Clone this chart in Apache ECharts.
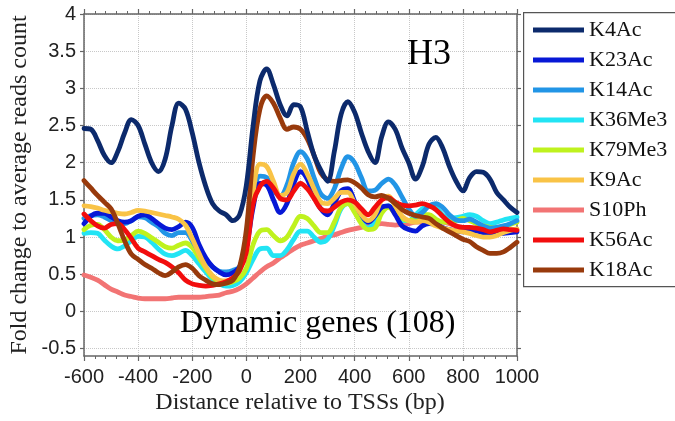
<!DOCTYPE html>
<html>
<head>
<meta charset="utf-8">
<script src="https://cdn.jsdelivr.net/npm/echarts@6/dist/echarts.min.js"></script>
<style>
  html, body { margin: 0; padding: 0; background: #ffffff; }
  #chart { width: 675px; height: 421px; }
</style>
</head>
<body>
<div id="chart"></div>
<script>
// Distance from the TSS (bp) at which each profile value was taken
const positions = [-600, -575, -550, -525, -500, -475, -450, -425, -400, -375, -350, -325, -300, -275, -250, -225, -200, -175, -150, -125, -100, -75, -50, -25,
  0, 25, 50, 75, 100, 125, 150, 175, 200, 225, 250, 275, 300, 325, 350, 375, 400, 425, 450, 475, 500, 525, 550, 575, 600, 625, 650, 675, 700, 725, 750, 775,
  800, 825, 850, 875, 900, 925, 950, 975, 1000];

// Fold change to average reads count, one array per H3 modification
const k4ac = [2.46, 2.45, 2.3, 2.1, 2.0, 2.15, 2.4, 2.58, 2.5, 2.25, 2.0, 1.88, 2.05, 2.5, 2.8, 2.72, 2.4, 2.0, 1.68, 1.45, 1.35, 1.3, 1.22, 1.3,
  1.7, 2.5, 3.1, 3.26, 3.05, 2.78, 2.63, 2.78, 2.75, 2.42, 2.1, 1.9, 1.75, 2.15, 2.65, 2.82, 2.68, 2.4, 2.15, 2.0, 2.35, 2.55, 2.45, 2.2, 2.0, 1.78, 1.95, 2.25, 2.34, 2.2, 1.95, 1.75,
  1.62, 1.8, 1.88, 1.87, 1.78, 1.6, 1.5, 1.4, 1.33];
const k23ac = [1.18, 1.28, 1.32, 1.32, 1.27, 1.22, 1.2, 1.22, 1.28, 1.3, 1.25, 1.18, 1.12, 1.1, 1.14, 1.2, 1.13, 0.9, 0.72, 0.6, 0.53, 0.49, 0.52, 0.6,
  0.86, 1.4, 1.72, 1.7, 1.5, 1.33, 1.45, 1.72, 1.88, 1.78, 1.55, 1.38, 1.3, 1.45, 1.62, 1.65, 1.48, 1.3, 1.2, 1.28, 1.4, 1.42, 1.3, 1.15, 1.1, 1.08, 1.15, 1.18, 1.17, 1.13, 1.1, 1.08,
  1.07, 1.08, 1.08, 1.06, 1.05, 1.05, 1.05, 1.06, 1.07];
const k14ac = [1.25, 1.29, 1.3, 1.27, 1.22, 1.18, 1.18, 1.22, 1.27, 1.26, 1.2, 1.14, 1.05, 1.02, 1.06, 1.06, 0.95, 0.8, 0.68, 0.6, 0.54, 0.53, 0.55, 0.6,
  0.95, 1.5, 1.82, 1.8, 1.63, 1.55, 1.7, 2.0, 2.15, 2.05, 1.8, 1.58, 1.52, 1.65, 1.92, 2.08, 2.0, 1.8, 1.62, 1.63, 1.72, 1.78, 1.7, 1.54, 1.38, 1.28, 1.33, 1.42, 1.45, 1.4, 1.3, 1.23,
  1.22, 1.24, 1.2, 1.15, 1.12, 1.13, 1.15, 1.18, 1.22];
const k36me3 = [1.05, 1.06, 1.05, 0.96, 0.88, 0.84, 0.88, 0.95, 1.01, 1.0, 0.93, 0.84, 0.77, 0.75, 0.78, 0.82, 0.75, 0.64, 0.53, 0.43, 0.37, 0.34, 0.35, 0.4,
  0.52, 0.7, 0.84, 0.85, 0.75, 0.75, 0.83, 0.97, 1.08, 1.08, 1.0, 0.93, 0.97, 1.15, 1.38, 1.45, 1.35, 1.2, 1.12, 1.22, 1.38, 1.42, 1.33, 1.22, 1.22, 1.3, 1.38, 1.42, 1.4, 1.3, 1.25, 1.26,
  1.28, 1.3, 1.28, 1.22, 1.18, 1.2, 1.23, 1.25, 1.27];
const k79me3 = [1.1, 1.16, 1.17, 1.1, 1.0, 0.95, 0.96, 1.02, 1.08, 1.05, 0.99, 0.93, 0.87, 0.85, 0.89, 0.92, 0.86, 0.72, 0.58, 0.46, 0.4, 0.38, 0.4, 0.45,
  0.58, 0.9, 1.08, 1.1, 1.02, 0.95, 1.0, 1.15, 1.28, 1.25, 1.15, 1.06, 1.06, 1.2, 1.4, 1.45, 1.33, 1.18, 1.1, 1.12, 1.32, 1.4, 1.32, 1.25, 1.22, 1.25, 1.3, 1.3, 1.24, 1.2, 1.2, 1.22,
  1.25, 1.22, 1.18, 1.15, 1.13, 1.12, 1.14, 1.17, 1.2];
const k9ac = [1.42, 1.41, 1.39, 1.36, 1.34, 1.32, 1.31, 1.33, 1.36, 1.35, 1.33, 1.31, 1.29, 1.27, 1.24, 1.16, 0.98, 0.78, 0.6, 0.48, 0.42, 0.41, 0.43, 0.55,
  0.86, 1.6, 1.98, 1.95, 1.75, 1.56, 1.6, 1.85, 1.98, 1.85, 1.65, 1.47, 1.45, 1.52, 1.6, 1.6, 1.45, 1.3, 1.22, 1.3, 1.5, 1.55, 1.42, 1.28, 1.22, 1.2, 1.22, 1.2, 1.15, 1.12, 1.1, 1.08,
  1.07, 1.05, 1.02, 1.0, 1.0, 1.02, 1.06, 1.09, 1.11];
const s10ph = [0.49, 0.46, 0.42, 0.36, 0.3, 0.26, 0.22, 0.2, 0.18, 0.17, 0.17, 0.17, 0.17, 0.18, 0.19, 0.19, 0.19, 0.19, 0.2, 0.21, 0.22, 0.25, 0.27, 0.31,
  0.37, 0.45, 0.53, 0.6, 0.65, 0.72, 0.78, 0.84, 0.89, 0.92, 0.95, 0.98, 1.01, 1.03, 1.06, 1.09, 1.11, 1.13, 1.15, 1.17, 1.18, 1.17, 1.16, 1.17, 1.18, 1.2, 1.2, 1.19, 1.2, 1.2, 1.18, 1.15,
  1.13, 1.11, 1.1, 1.09, 1.09, 1.09, 1.09, 1.09, 1.1];
const k56ac = [1.31, 1.22, 1.15, 1.12, 1.17, 1.18, 1.1, 0.98, 0.85, 0.8, 0.75, 0.7, 0.66, 0.6, 0.52, 0.42, 0.37, 0.35, 0.34, 0.35, 0.37, 0.4, 0.45, 0.55,
  0.8, 1.45, 1.68, 1.75, 1.66, 1.52, 1.5, 1.62, 1.72, 1.65, 1.52, 1.38, 1.35, 1.4, 1.47, 1.5, 1.47, 1.38, 1.3, 1.4, 1.5, 1.53, 1.47, 1.43, 1.42, 1.43, 1.45, 1.42, 1.37, 1.28, 1.2, 1.15,
  1.13, 1.13, 1.12, 1.1, 1.07, 1.09, 1.11, 1.1, 1.09];
const k18ac = [1.76, 1.66, 1.56, 1.47, 1.38, 1.18, 0.95, 0.77, 0.7, 0.63, 0.58, 0.52, 0.48, 0.53, 0.6, 0.63, 0.58, 0.48, 0.42, 0.37, 0.36, 0.38, 0.42, 0.6,
  1.1, 2.1, 2.72, 2.9, 2.8, 2.6, 2.45, 2.48, 2.45, 2.32, 2.1, 1.86, 1.77, 1.75, 1.76, 1.77, 1.73, 1.66, 1.57, 1.54, 1.56, 1.52, 1.45, 1.37, 1.32, 1.29, 1.27, 1.25, 1.18, 1.12, 1.07, 1.02,
  0.97, 0.94, 0.87, 0.82, 0.78, 0.78, 0.8, 0.86, 0.93];

// Labelled values on the y axis
const yTickValues = [-0.5, 0, 0.5, 1, 1.5, 2, 2.5, 3, 3.5, 4];

// Legend order (top to bottom)
const legendOrder = ['K4Ac', 'K23Ac', 'K14Ac', 'K36Me3', 'K79Me3', 'K9Ac', 'S10Ph', 'K56Ac', 'K18Ac'];

// Drawing order (first is painted underneath)
const profiles = [
  { name: 'S10Ph',  values: s10ph,  color: '#f27474' },
  { name: 'K36Me3', values: k36me3, color: '#22e4f4' },
  { name: 'K79Me3', values: k79me3, color: '#bff21e' },
  { name: 'K14Ac',  values: k14ac,  color: '#2295e6' },
  { name: 'K23Ac',  values: k23ac,  color: '#0718d6' },
  { name: 'K9Ac',   values: k9ac,   color: '#f9c346' },
  { name: 'K56Ac',  values: k56ac,  color: '#f20d0d' },
  { name: 'K18Ac',  values: k18ac,  color: '#983a0c' },
  { name: 'K4Ac',   values: k4ac,   color: '#0c2a6c' }
];

const serif = '"Liberation Serif", "Times New Roman", serif';
const sans = '"Liberation Sans", Arial, sans-serif';
const axisColor = '#666666';

const chart = echarts.init(document.getElementById('chart'), null, { renderer: 'canvas' });

const baseX = {
  type: 'value', min: -600, max: 1000, interval: 200,
  axisLine: { show: true, onZero: false, lineStyle: { color: axisColor, width: 1.5 } },
  axisTick: { show: true, inside: false, length: 5, lineStyle: { color: axisColor, width: 1.2 } },
  minorTick: { show: true, splitNumber: 5, length: 3, lineStyle: { color: axisColor, width: 1 } }
};
const baseY = {
  type: 'value', min: -0.6, max: 4,
  axisLine: { show: true, onZero: false, lineStyle: { color: axisColor, width: 1.5 } },
  axisTick: { show: true, inside: false, length: 4, customValues: yTickValues, lineStyle: { color: axisColor, width: 1.2 } }
};

chart.setOption({
  animation: false,
  backgroundColor: '#ffffff',
  grid: { left: 84, right: 158, top: 14, bottom: 65, containLabel: false },
  xAxis: [
    Object.assign({}, baseX, {
      position: 'bottom',
      axisLabel: { show: true, margin: 11, fontFamily: sans, fontSize: 20, color: '#222222',
        formatter: v => String(v) },
      splitLine: { show: true, lineStyle: { color: '#c8c8c8', type: 'dotted', width: 1 } }
    }),
    Object.assign({}, baseX, {
      position: 'top',
      axisLabel: { show: false },
      splitLine: { show: false }
    })
  ],
  yAxis: [
    Object.assign({}, baseY, {
      position: 'left',
      axisLabel: { show: true, margin: 8, customValues: yTickValues, fontFamily: sans, fontSize: 20, color: '#222222',
        formatter: v => String(v) },
      splitLine: { show: true, lineStyle: { color: '#c8c8c8', type: 'dotted', width: 1 } }
    }),
    Object.assign({}, baseY, {
      position: 'right',
      axisLabel: { show: false },
      splitLine: { show: false }
    })
  ],
  legend: {
    data: legendOrder.map(n => ({ name: n, icon: 'rect' })),
    orient: 'vertical',
    left: 533, top: 19,
    padding: 0,
    itemWidth: 51, itemHeight: 5, itemGap: 8,
    textStyle: { fontFamily: serif, fontSize: 22, lineHeight: 22, color: '#111111' },
    selectedMode: false
  },
  graphic: [
    { type: 'rect', left: 523, top: 12, z: 0,
      shape: { width: 170, height: 274 },
      style: { fill: '#ffffff', stroke: '#555555', lineWidth: 1.2 } },
    { type: 'text', x: 407, y: 55, z: 10,
      style: { text: 'H3', font: '36px ' + serif, fill: '#000000', textAlign: 'left', textVerticalAlign: 'middle' } },
    { type: 'text', x: 180, y: 324, z: 10,
      style: { text: 'Dynamic genes (108)', font: '32px ' + serif, fill: '#000000', textAlign: 'left', textVerticalAlign: 'middle' } },
    { type: 'text', x: 300, y: 403, z: 10,
      style: { text: 'Distance relative to TSSs (bp)', font: '24px ' + serif, fill: '#222222', textAlign: 'center', textVerticalAlign: 'middle' } },
    { type: 'text', x: 20, y: 185, rotation: Math.PI / 2, z: 10,
      style: { text: 'Fold change to average reads count', font: '24px ' + serif, fill: '#222222', textAlign: 'center', textVerticalAlign: 'middle' } }
  ],
  series: profiles.map(p => ({
    name: p.name,
    type: 'line',
    xAxisIndex: 0, yAxisIndex: 0,
    data: positions.map((x, i) => [x, p.values[i]]),
    smooth: 0.35,
    showSymbol: false,
    symbol: 'none',
    clip: true,
    lineStyle: { color: p.color, width: 4.8, cap: 'round', join: 'round' },
    itemStyle: { color: p.color },
    emphasis: { disabled: true }
  }))
});
</script>
</body>
</html>
